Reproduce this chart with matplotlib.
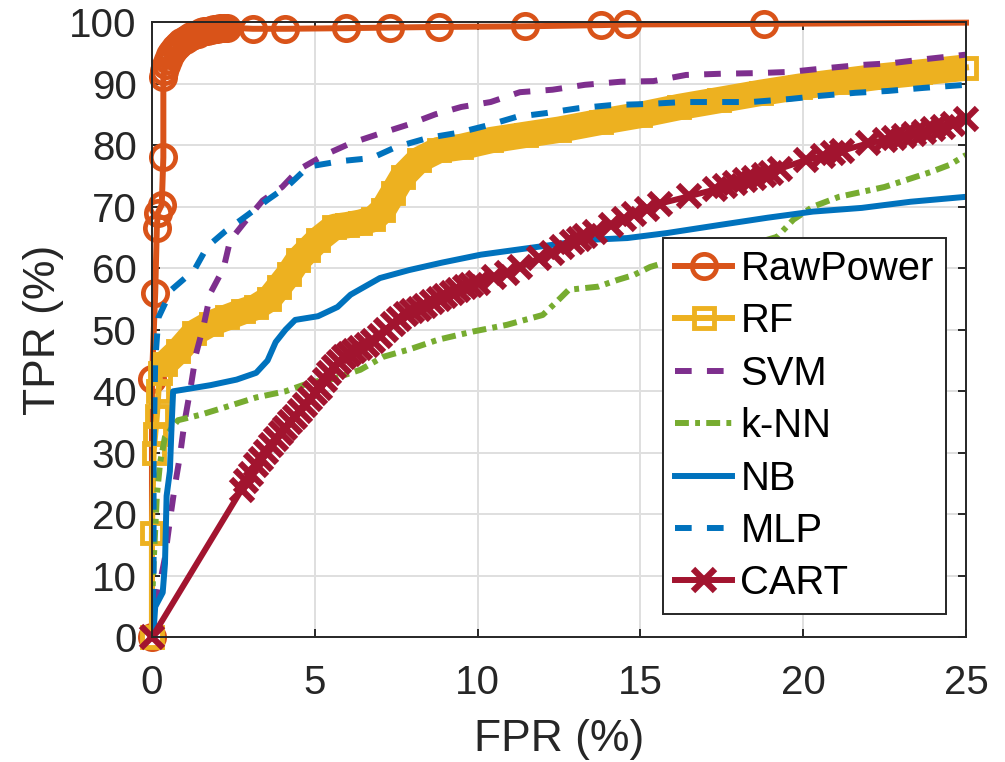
import matplotlib
matplotlib.use("Agg")
import matplotlib.pyplot as plt

plt.rcParams['font.family'] = ['Liberation Sans', 'DejaVu Sans']
plt.rcParams['lines.scale_dashes'] = False

# ---------------- data (FPR %, TPR %) ----------------
raw_fpr = [0, 0, 0.1, 0.15, 0.18, 0.3, 0.35, 0.35, 0.38, 0.42, 0.48, 0.55, 0.62, 0.7,
           0.8, 0.9, 1.0, 1.1, 1.2, 1.3, 1.4, 1.5, 1.6, 1.7, 1.8, 1.9, 2.0, 2.1, 2.2, 2.3,
           3.1, 4.1, 5.95, 7.3, 8.8, 11.45, 13.8, 14.6, 18.8, 25]
raw_tpr = [0, 42, 56, 66.5, 69, 70.3, 78, 91, 92, 93, 93.8, 94.6, 95.2, 95.7,
           96.2, 96.7, 97.1, 97.4, 97.7, 97.9, 98.1, 98.3, 98.5, 98.6, 98.7, 98.8, 98.9, 99.0, 99.05, 99.1,
           98.9, 98.9, 99.0, 99.1, 99.2, 99.3, 99.5, 99.6, 99.7, 99.9]

rf_fpr = [0, 0, 0.05, 0.1, 0.15, 0.2, 0.25, 0.4, 0.8, 1.3, 1.8, 2.3, 2.8, 3.2, 3.6, 3.9,
          4.2, 4.5, 4.8, 5.1, 5.6, 6.0, 6.4, 6.8, 7.1, 7.4, 7.7, 8.2, 8.8, 9.5, 10.4,
          11.5, 12.5, 13.8, 15.0, 16.2, 17.4, 18.7, 19.9, 21.1, 22.3, 23.6, 25]
rf_tpr = [0, 17, 30, 33, 36, 40, 43, 44.5, 46.5, 49.5, 51, 52, 53, 53.7, 55, 57,
          59, 61.4, 63, 64.6, 66.7, 67, 67.4, 68, 69.5, 72.2, 74.9, 77.6, 79.2, 79.7, 80.8,
          81.7, 82.5, 83.8, 84.9, 86.2, 87.3, 88.5, 89.5, 90.3, 91.1, 91.8, 92.6]

svm_fpr = [0, 0.1, 0.25, 0.4, 0.55, 0.7, 0.86, 1.0, 1.2, 1.35, 1.6, 1.8, 2.2, 2.4, 2.85,
           3.4, 4.0, 4.5, 5.3, 6.1, 6.9, 7.85, 8.7, 9.5, 10.4, 11.3, 12.3, 13.3, 14.4,
           15.4, 16.4, 17.5, 18.6, 19.6, 20.7, 21.7, 22.7, 23.8, 25]
svm_tpr = [0, 5, 9, 13, 19, 24.5, 29.5, 35, 41, 46, 51, 56, 60, 64.5, 67.5,
           71, 73.2, 76, 78.4, 80.3, 81.7, 83.3, 85, 86.2, 87, 88.6, 89, 89.8, 90.3,
           90.4, 91.4, 91.6, 91.7, 91.9, 92.5, 93, 93.3, 94, 94.7]

knn_fpr = [0, 0, 0.05, 0.15, 0.25, 0.4, 0.8, 1.5, 2.3, 3.2, 4.1, 4.9, 5.55, 6.4, 7.1, 7.9,
           8.8, 9.85, 10.9, 12.0, 12.4, 12.8, 13.7, 14.3, 14.8, 15.3, 15.8, 16.6, 17.5,
           18.5, 19.2, 19.7, 20.3, 21.1, 21.8, 22.5, 23.2, 23.9, 24.5, 25]
knn_tpr = [0, 5, 12, 23, 28.4, 32.6, 35.3, 36.2, 37.5, 39, 40, 41.5, 42, 43.5, 45.6, 46.8,
           48.4, 49.7, 50.8, 52.4, 54.4, 56.5, 57, 58.1, 58.9, 60.2, 61, 62, 63,
           64, 65.1, 67.9, 70, 71.6, 72.4, 73.2, 74.4, 75.6, 76.8, 78.4]

nb_fpr = [0, 0.05, 0.1, 0.33, 0.4, 0.45, 0.55, 0.6, 0.65, 1.0, 1.8, 2.6, 3.2, 3.55, 3.8,
          4.1, 4.4, 5.1, 5.7, 6.1, 7.0, 7.9, 8.9, 10.1, 11.2, 12.3, 13.4, 14.6, 15.8,
          17.4, 18.9, 20.3, 21.8, 23.3, 25]
nb_tpr = [0, 1, 5, 7.3, 12, 23, 27, 34, 40, 40.3, 41, 41.9, 43, 45, 48,
          50, 51.6, 52.2, 53.7, 55.7, 58.4, 59.7, 60.9, 62.2, 63, 63.8, 64.6, 64.9, 65.7,
          67, 68.2, 69.2, 69.8, 70.8, 71.6]

mlp_fpr = [0, 0.05, 0.05, 0.1, 0.2, 0.6, 1.3, 1.7, 2.25, 2.95, 3.55, 4.2, 4.8, 5.8, 6.75,
           7.5, 8.5, 9.4, 10.3, 11.2, 12.1, 13.1, 14.1, 15.3, 16.3, 18.4, 19.6, 20.5,
           21.6, 22.6, 23.7, 25]
mlp_tpr = [0, 10, 30, 45, 52, 56.5, 59.7, 63.5, 66, 68.7, 71.1, 73.5, 76.5, 77.4, 77.9,
           79.7, 81.2, 82, 83.2, 84.6, 85.2, 86, 86.5, 86.7, 87, 87, 87.5, 88,
           88.5, 88.8, 89.3, 89.8]

cart_fpr = [0, 2.75, 2.9, 3.05, 3.2, 3.35, 3.5, 3.65, 3.8, 3.95, 4.1, 4.25, 4.4, 4.55, 4.7,
            4.85, 5.0, 5.15, 5.3, 5.45, 5.6, 5.75, 5.9, 6.05, 6.2, 6.4, 6.6, 6.8, 7.0, 7.2,
            7.4, 7.6, 7.8, 8.0, 8.2, 8.4, 8.6, 8.8, 9.0, 9.2, 9.4, 9.6, 9.8, 10.0,
            10.5, 10.9, 11.3, 11.9, 12.3, 12.6, 12.9, 13.1, 13.3, 13.6, 14.1, 14.5, 14.8,
            15.2, 15.6, 16.5, 17.3, 17.6, 17.9, 18.2, 18.5, 18.8, 19.0, 19.3, 20.1, 20.6,
            20.9, 21.2, 22.0, 22.5, 22.8, 23.1, 23.4, 23.7, 24.0, 24.3, 24.6, 25]
cart_tpr = [0, 24, 25.5, 26.5, 28, 29, 30.2, 31.3, 32.2, 33.2, 34, 35, 35.8, 36.8, 37.8,
            38.8, 39.7, 40.5, 41.8, 43, 44, 44.8, 45.5, 46, 46.5, 47, 47.6, 48.2, 49, 50,
            51, 51.8, 52.5, 53, 53.4, 53.9, 54.5, 55, 55.5, 55.9, 56.4, 56.9, 57.3, 57.6,
            58.6, 59.2, 60.2, 61.6, 62.5, 63.5, 64.3, 64.8, 65.2, 65.9, 67, 68, 68.8,
            69.6, 70.5, 71.7, 72.8, 73.3, 73.8, 74.3, 74.7, 75.1, 75.5, 76.2, 77.6, 78.2,
            78.7, 79.1, 80.3, 80.8, 81.1, 81.4, 81.8, 82.2, 82.6, 83, 83.5, 84.2]

x_ticks = [0, 5, 10, 15, 20, 25]
y_ticks = [0, 10, 20, 30, 40, 50, 60, 70, 80, 90, 100]

# ---------------- style ----------------
C_RAW = '#D95319'
C_RF = '#EDB120'
C_SVM = '#7E2F8E'
C_KNN = '#77AC30'
C_BLUE = '#0072BD'
C_CART = '#A2142F'
LW = 4.3
TXT = '#262626'

fig = plt.figure(figsize=(10.05, 7.62), dpi=100)
ax = fig.add_axes([0.1512, 0.1634, 0.8100, 0.8077])

ax.grid(True, color='#DFDFDF', linewidth=1.4, zorder=0)
ax.set_axisbelow(True)

h_raw, = ax.plot(raw_fpr, raw_tpr, color=C_RAW, lw=LW, marker='o', ms=17.5, mfc='none',
                 mew=3.4, markevery=slice(0, len(raw_fpr) - 1), clip_on=False,
                 label='RawPower', zorder=3)

ax.plot(rf_fpr[6:], rf_tpr[6:], color=C_RF, lw=19, solid_capstyle='butt',
        solid_joinstyle='round', zorder=3)
h_rf, = ax.plot(rf_fpr, rf_tpr, color=C_RF, lw=LW, marker='s', ms=15, mfc='none',
                mew=3.5, clip_on=False, label='RF', zorder=3)

h_svm, = ax.plot(svm_fpr, svm_tpr, color=C_SVM, lw=LW, dashes=(12, 11),
                 dash_capstyle='butt', label='SVM', zorder=3)
h_knn, = ax.plot(knn_fpr, knn_tpr, color=C_KNN, lw=LW, dashes=(10, 4.5, 3.5, 4.5),
                 dash_capstyle='butt', label='k-NN', zorder=3)
h_nb, = ax.plot(nb_fpr, nb_tpr, color=C_BLUE, lw=LW, label='NB', zorder=3)
h_mlp, = ax.plot(mlp_fpr, mlp_tpr, color=C_BLUE, lw=LW, dashes=(12, 11),
                 dash_capstyle='butt', label='MLP', zorder=3)
h_cart, = ax.plot(cart_fpr, cart_tpr, color=C_CART, lw=LW, marker='x', ms=16, mew=4.5,
                  clip_on=False, label='CART', zorder=3)

ax.set_xlim(0, 25)
ax.set_ylim(0, 100)
ax.set_xticks(x_ticks)
ax.set_yticks(y_ticks)

for s in ax.spines.values():
    s.set_color(TXT)
    s.set_linewidth(1.4)
    s.set_zorder(4)

ax.tick_params(direction='in', length=6, width=1.4, top=True, right=True,
               labelsize=29, colors=TXT)
ax.tick_params(axis='x', pad=19)
ax.tick_params(axis='y', pad=11)

ax.set_xlabel('FPR (%)', fontsize=32, color=TXT, labelpad=12)
ax.set_ylabel('TPR (%)', fontsize=32, color=TXT, labelpad=4)

leg = ax.legend(handles=[h_raw, h_rf, h_svm, h_knn, h_nb, h_mlp, h_cart],
                loc='upper left', bbox_to_anchor=(0.628, 0.649), borderaxespad=0,
                fontsize=28.8, frameon=True, fancybox=False, framealpha=1,
                edgecolor=TXT, handlelength=1.43, handletextpad=0.2,
                labelspacing=0.36, borderpad=0.3, numpoints=1)
leg.get_frame().set_linewidth(1.4)
leg.set_zorder(10)

fig.savefig('out.png', dpi=100)
